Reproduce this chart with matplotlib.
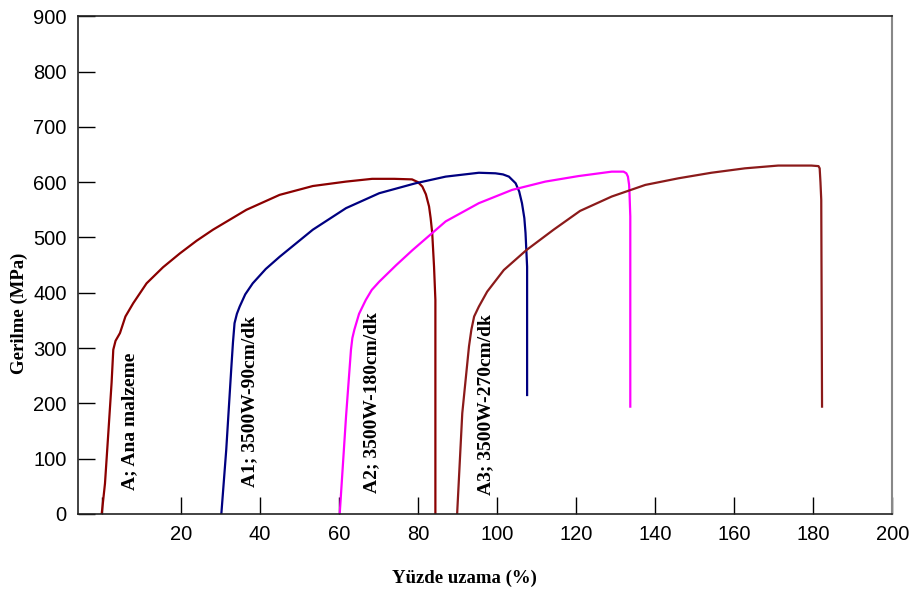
import matplotlib
matplotlib.use("Agg")
import matplotlib.pyplot as plt

# stress-strain curves (x = % elongation, y = MPa)
a_x = [0.0, 0.83, 1.67, 2.5, 2.93, 3.5, 4.62, 6.0, 7.97, 11.35, 15.5, 19.75, 24.0, 28.15,
       36.6, 45.0, 53.4, 61.8, 68.4, 74.0, 78.5, 80.0, 81.1, 82.0, 82.8, 83.2, 83.6,
       84.06, 84.4, 84.4]
a_y = [0, 55, 146, 237, 297, 313, 327, 357, 381, 417, 446, 471, 494, 514,
       550, 577, 593, 601, 606, 606, 605, 600, 592, 578, 556, 535, 508,
       447, 387, 0]

a1_x = [30.26, 31.5, 32.8, 33.2, 33.6, 34.2, 34.9, 36.3, 38.2, 41.5, 45.0, 53.4, 61.8,
        70.2, 79.4, 87.0, 95.4, 99.6, 101.5, 103.0, 104.7, 105.6, 106.3, 106.9, 107.2,
        107.6, 107.6]
a1_y = [0, 116, 266, 310, 345, 362, 375, 397, 417, 443, 465, 514, 553,
        580, 598, 610, 617, 616, 614, 610, 598, 583, 562, 535, 508,
        447, 215]

a2_x = [60.2, 61.8, 63.05, 63.4, 63.9, 65.1, 66.8, 68.3, 70.2, 74.5, 78.6, 87.0, 95.4,
        103.8, 112.2, 120.6, 129.0, 132.0, 132.7, 133.1, 133.4, 133.5, 133.7, 133.7]
a2_y = [0, 176, 297, 318, 333, 362, 387, 405, 420, 450, 477, 529, 562,
        586, 601, 611, 619, 619, 616, 610, 595, 580, 538, 194]

a3_x = [89.9, 91.2, 92.9, 93.5, 94.2, 95.4, 97.5, 101.7, 107.4, 114.3, 121.0,
        129.0, 137.5, 145.9, 154.2, 162.7, 171.1, 179.5, 181.3, 181.6, 181.8, 182.0, 182.2]
a3_y = [0, 182, 303, 333, 357, 375, 402, 441, 477, 514, 548,
        574, 595, 607, 617, 625, 630, 630, 629, 625, 600, 568, 194]

labels = ["A; Ana malzeme", "A1; 3500W-90cm/dk", "A2; 3500W-180cm/dk", "A3; 3500W-270cm/dk"]
label_x = [7.1, 37.4, 68.4, 97.2]
label_y = [43, 49, 38, 34]
colors = ["#8B0000", "#000080", "#FF00FF", "#8B1A1A"]

x_ticks = list(range(0, 201, 20))
y_ticks = list(range(0, 901, 100))

fig = plt.figure(figsize=(9.11, 5.90), dpi=100)
ax = fig.add_axes([0.0856, 0.129, 0.894, 0.8434])

for xs, ys, c in zip([a_x, a1_x, a2_x, a3_x], [a_y, a1_y, a2_y, a3_y], colors):
    ax.plot(xs, ys, color=c, lw=1.6)

for txt, tx, ty in zip(labels, label_x, label_y):
    ax.text(tx, ty, txt, rotation=90, ha="center", va="bottom",
            family="Liberation Serif", fontweight="bold", fontsize=14)

ax.set_xlim(-6, 200)
ax.set_ylim(0, 900)
ax.set_xticks(x_ticks)
ax.set_xticklabels([""] + [str(v) for v in x_ticks[1:]])
ax.set_yticks(y_ticks)
ax.tick_params(direction="in", length=12, width=1, labelsize=14.5, pad=8)
for lab in ax.get_xticklabels() + ax.get_yticklabels():
    lab.set_family("Liberation Sans")

ax.set_xlabel("Yüzde uzama (%)", family="Liberation Serif", fontweight="bold",
              fontsize=13.5)
ax.set_ylabel("Gerilme (MPa)", family="Liberation Serif", fontweight="bold",
              fontsize=13.5)
ax.xaxis.set_label_coords(0.475, -0.112)
ax.yaxis.set_label_coords(-0.061, 0.404)

for s in ["left", "bottom", "top"]:
    ax.spines[s].set_color("#222222")
    ax.spines[s].set_linewidth(1.2)
ax.spines["right"].set_color("#888888")
ax.spines["right"].set_linewidth(1.5)

fig.savefig("out.png", dpi=100)
